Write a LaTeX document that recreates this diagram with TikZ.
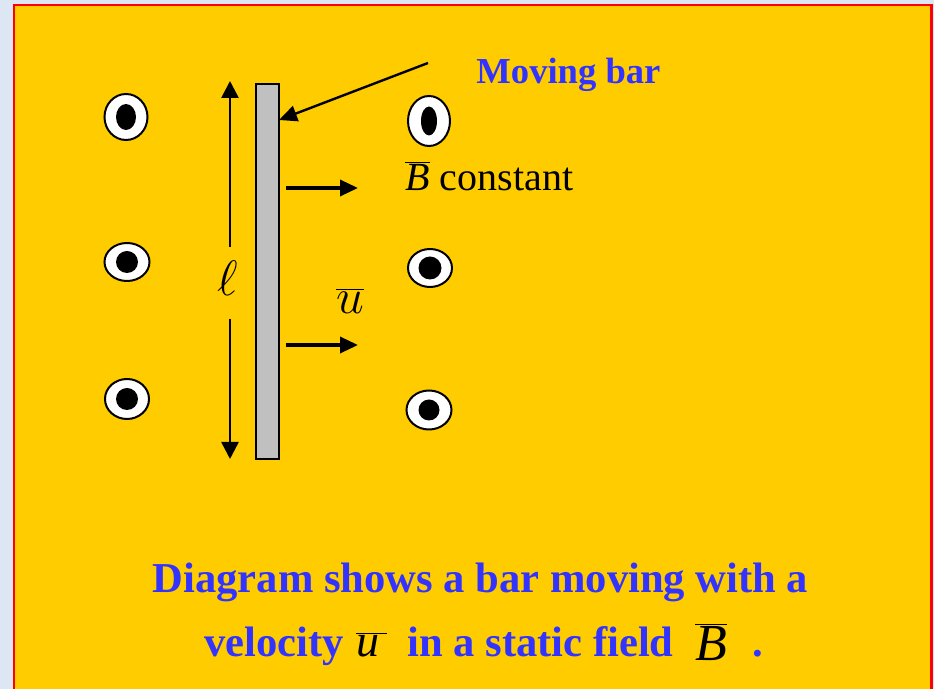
\documentclass[tikz,border=0pt]{standalone}
\usepackage{fontspec}
\setmainfont{Liberation Serif}
\usepackage{xcolor}
\usetikzlibrary{positioning,shapes.geometric,arrows.meta}

\definecolor{slideyellow}{HTML}{FFCC00}
\definecolor{slideblue}{HTML}{3333FF}
\definecolor{framered}{HTML}{FF0000}
\definecolor{paleblue}{HTML}{DDE7F3}
\definecolor{bargray}{HTML}{C0C0C0}

\begin{document}
\begin{tikzpicture}[
    x=0.5pt, y=-0.5pt,
    ring/.style={ellipse, draw, line width=1pt, fill=white, inner sep=0pt},
    core/.style={ellipse, fill=black, inner sep=0pt},
    movebar/.style={rectangle, draw, line width=1pt, fill=bargray, inner sep=0pt, minimum width=11.5pt, minimum height=187.5pt},
    pushed/.style={line width=1.7pt, -{Triangle[width=8pt,length=9pt]}},
    sidearrow/.style={line width=1.3pt, -{Triangle[width=8.5pt,length=8.5pt]}},
    bluetext/.style={text=slideblue, font=\bfseries},
    captext/.style={bluetext, font=\fontsize{21.3}{26}\bfseries\selectfont, anchor=base west, inner sep=0pt},
    capmath/.style={anchor=base west, inner sep=0pt},
    >=stealth
]

% slide background
\useasboundingbox (0,0) rectangle (934,689);
\fill[paleblue] (0,0) rectangle (934,689);
\begin{scope}
\clip (0,0) rectangle (934,689);
\draw[framered, line width=1.3pt, fill=slideyellow] (14,5) rectangle (931.5,720);
\end{scope}

% field points (out of the page)
\node[ring, minimum width=21.5pt, minimum height=23pt] (fl1) at (126,117) {};
\node[core, minimum width=10pt, minimum height=13pt] at (fl1) {};
\node[ring, minimum width=22.5pt, minimum height=19pt] (fl2) at (127,262) {};
\node[core, minimum width=11pt, minimum height=11pt] at (fl2) {};
\node[ring, minimum width=22pt, minimum height=20pt] (fl3) at (127,399) {};
\node[core, minimum width=11pt, minimum height=11pt] at (fl3) {};

\node[ring, minimum width=21pt, minimum height=25pt] (fr1) at (429,121) {};
\node[core, minimum width=8pt, minimum height=14.5pt] at (fr1) {};
\node[ring, minimum width=22pt, minimum height=19pt] (fr2) at (430,268) {};
\node[core, minimum width=11.5pt, minimum height=11.5pt] at (fr2) {};
\node[ring, minimum width=22.5pt, minimum height=19.5pt] (fr3) at (429,410) {};
\node[core, minimum width=10.5pt, minimum height=10.5pt] at (fr3) {};

% the bar
\node[movebar] (bar) at (267.5,271.5) {};

% length of the bar
\node[font=\fontsize{26}{30}\selectfont] (ell) at (228,278) {$\ell$};
\coordinate (lupstart) at (230,247);
\coordinate (luptip) at (230,81);
\coordinate (ldownstart) at (230,319);
\coordinate (ldowntip) at (230,459);
\draw[sidearrow] (lupstart) -- (luptip);
\draw[sidearrow] (ldownstart) -- (ldowntip);

% labels
\node[bluetext, font=\fontsize{18.3}{22}\bfseries\selectfont, anchor=base west, inner sep=0pt] (mbar) at (476,84) {Moving bar};
\coordinate (ptail) at (428,63);
\coordinate (ptip) at (279,120);
\draw[line width=1.2pt, -{Triangle[width=8pt,length=9pt]}] (ptail) -- (ptip);

\node[font=\fontsize{20}{24}\selectfont, anchor=base west, inner sep=0pt] (bconst) at (405,191) {$\overline{\textit{B}}$ constant};

\coordinate (a1start) at (286,188);
\coordinate (a1tip) at (358,188);
\draw[pushed] (a1start) -- (a1tip);

\node[font=\fontsize{26}{30}\selectfont, anchor=base] (uvec) at (350,314) {$\overline{u}$};
\coordinate (a2start) at (286,345);
\coordinate (a2tip) at (358,345);
\draw[pushed] (a2start) -- (a2tip);

% caption
\node[bluetext, font=\fontsize{21.3}{26}\bfseries\selectfont, anchor=base] (cap1) at (480.5,593) {Diagram shows a bar moving with a};
\node[captext] (cap2) at (204,657) {velocity};
\node[capmath, font=\fontsize{23}{26}\selectfont] (capu) at (356,657) {$\overline{\textit{u}\kern4pt}$};
\node[captext] (cap3) at (407,657) {in a static field};
\node[capmath, font=\fontsize{26}{30}\selectfont] (capb) at (695,661) {$\overline{\textit{B}}$};
\node[captext] (cap4) at (752,657) {.};

\end{tikzpicture}
\end{document}
